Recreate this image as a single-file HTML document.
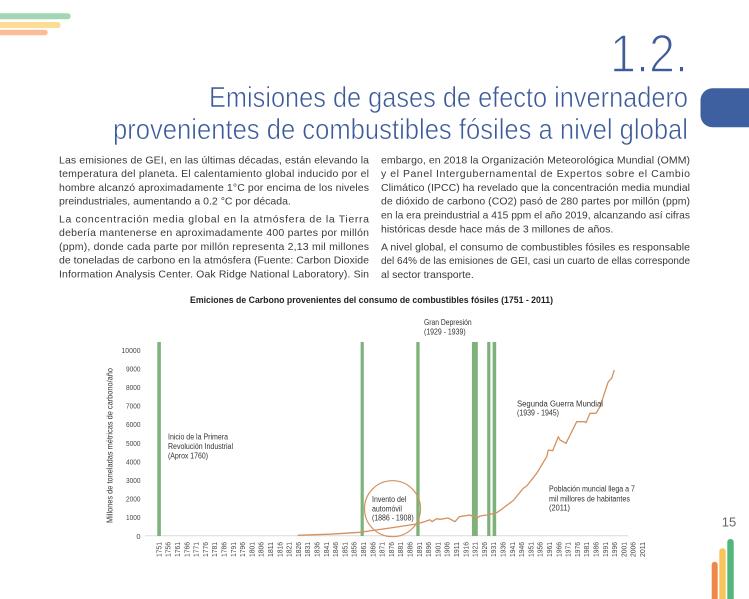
<!DOCTYPE html>
<html>
<head>
<meta charset="utf-8">
<style>
html,body{margin:0;padding:0;background:#fff;}
svg{display:block;}
.body{font-family:"Liberation Sans",sans-serif;font-size:10.5px;fill:#3a3a3a;}
.ann{font-family:"Liberation Sans",sans-serif;font-size:8px;fill:#333;}
.tick{font-family:"Liberation Sans",sans-serif;font-size:7.5px;fill:#444;}
</style>
</head>
<body>
<svg width="749" height="599" viewBox="0 0 749 599" xmlns="http://www.w3.org/2000/svg">
<rect x="0" y="0" width="749" height="599" fill="#fff"/>

<!-- top-left decorative bars -->
<rect x="-6" y="13.3" width="76.7" height="6" rx="3" fill="#a3d6b3"/>
<rect x="-6" y="22" width="66.7" height="6" rx="3" fill="#fddc94"/>
<rect x="-6" y="29.7" width="53.7" height="5.6" rx="2.8" fill="#fbbb95"/>

<!-- right tab -->
<rect x="700.5" y="88.3" width="70" height="39" rx="12" fill="#3e5fa0"/>

<!-- titles -->
<text x="688" y="72" text-anchor="end" font-family="Liberation Sans, sans-serif" font-size="54" fill="#3d5b9b" stroke="#fff" stroke-width="1.6" textLength="78" lengthAdjust="spacingAndGlyphs">1.2.</text>
<text x="688" y="107" text-anchor="end" font-family="Liberation Sans, sans-serif" font-size="29" fill="#3d5b9b" stroke="#fff" stroke-width="0.6" textLength="479" lengthAdjust="spacingAndGlyphs">Emisiones de gases de efecto invernadero</text>
<text x="688" y="139" text-anchor="end" font-family="Liberation Sans, sans-serif" font-size="29" fill="#3d5b9b" stroke="#fff" stroke-width="0.6" textLength="575" lengthAdjust="spacingAndGlyphs">provenientes de combustibles fósiles a nivel global</text>

<!-- left column -->
<g class="body">
<text x="59" y="163.3" textLength="310" lengthAdjust="spacing">Las emisiones de GEI, en las últimas décadas, están elevando la</text>
<text x="59" y="177.1" textLength="310" lengthAdjust="spacing">temperatura del planeta. El calentamiento global inducido por el</text>
<text x="59" y="190.9" textLength="310" lengthAdjust="spacing">hombre alcanzó aproximadamente 1°C por encima de los niveles</text>
<text x="59" y="204.7">preindustriales, aumentando a 0.2 °C por década.</text>
<text x="59" y="222.3" textLength="310" lengthAdjust="spacing">La concentración media global en la atmósfera de la Tierra</text>
<text x="59" y="236.1" textLength="310" lengthAdjust="spacing">debería mantenerse en aproximadamente 400 partes por millón</text>
<text x="59" y="249.9" textLength="310" lengthAdjust="spacing">(ppm), donde cada parte por millón representa 2,13 mil millones</text>
<text x="59" y="263.7" textLength="310" lengthAdjust="spacing">de toneladas de carbono en la atmósfera (Fuente: Carbon Dioxide</text>
<text x="59" y="277.5" textLength="310" lengthAdjust="spacing">Information Analysis Center. Oak Ridge National Laboratory). Sin</text>
</g>

<!-- right column -->
<g class="body">
<text x="381" y="163.3" textLength="309" lengthAdjust="spacing">embargo, en 2018 la Organización Meteorológica Mundial (OMM)</text>
<text x="381" y="177.1" textLength="309" lengthAdjust="spacing">y el Panel Intergubernamental de Expertos sobre el Cambio</text>
<text x="381" y="190.9" textLength="309" lengthAdjust="spacing">Climático (IPCC) ha revelado que la concentración media mundial</text>
<text x="381" y="204.7" textLength="309" lengthAdjust="spacing">de dióxido de carbono (CO2) pasó de 280 partes por millón (ppm)</text>
<text x="381" y="218.5" textLength="309" lengthAdjust="spacingAndGlyphs">en la era preindustrial a 415 ppm el año 2019, alcanzando así cifras</text>
<text x="381" y="232.3">históricas desde hace más de 3 millones de años.</text>
<text x="381" y="250.3" textLength="309" lengthAdjust="spacing">A nivel global, el consumo de combustibles fósiles es responsable</text>
<text x="381" y="264.1" textLength="309" lengthAdjust="spacingAndGlyphs">del 64% de las emisiones de GEI, casi un cuarto de ellas corresponde</text>
<text x="381" y="277.9">al sector transporte.</text>
</g>

<!-- chart title -->
<text x="190" y="302.8" font-family="Liberation Sans, sans-serif" font-weight="bold" font-size="9.5" fill="#222" textLength="363" lengthAdjust="spacingAndGlyphs">Emiciones de Carbono provenientes del consumo de combustibles fósiles (1751 - 2011)</text>

<!-- y axis title -->
<text transform="translate(112.5,445.5) rotate(-90)" text-anchor="middle" class="ann" textLength="155" lengthAdjust="spacingAndGlyphs">Millones de toneladas métricas de carbono/año</text>

<!-- y tick labels -->
<g class="tick" text-anchor="end">
<text x="140.5" y="352.8" textLength="19" lengthAdjust="spacingAndGlyphs">10000</text>
<text x="140.5" y="371.4" textLength="14.5" lengthAdjust="spacingAndGlyphs">9000</text>
<text x="140.5" y="390.0" textLength="14.5" lengthAdjust="spacingAndGlyphs">8000</text>
<text x="140.5" y="408.6" textLength="14.5" lengthAdjust="spacingAndGlyphs">7000</text>
<text x="140.5" y="427.2" textLength="14.5" lengthAdjust="spacingAndGlyphs">6000</text>
<text x="140.5" y="445.8" textLength="14.5" lengthAdjust="spacingAndGlyphs">5000</text>
<text x="140.5" y="464.4" textLength="14.5" lengthAdjust="spacingAndGlyphs">4000</text>
<text x="140.5" y="483.0" textLength="14.5" lengthAdjust="spacingAndGlyphs">3000</text>
<text x="140.5" y="501.6" textLength="14.5" lengthAdjust="spacingAndGlyphs">2000</text>
<text x="140.5" y="520.2" textLength="14.5" lengthAdjust="spacingAndGlyphs">1000</text>
<text x="140.5" y="538.8">0</text>
</g>

<!-- axis line -->
<line x1="145" y1="535.8" x2="628" y2="535.8" stroke="#dcdcdc" stroke-width="1"/>

<!-- green bars -->
<g fill="#7fb27b">
<rect x="157.3" y="342" width="3.6" height="194"/>
<rect x="360.6" y="342" width="3.2" height="194"/>
<rect x="416.3" y="342" width="3.3" height="194"/>
<rect x="471.9" y="342" width="5.9" height="194"/>
<rect x="487.2" y="342" width="3.2" height="194"/>
<rect x="492.6" y="342" width="3.6" height="194"/>
</g>

<!-- emissions line -->
<polyline fill="none" stroke="#d4915f" stroke-width="1.3" stroke-linejoin="round" points="297.7,535.3 330,534.2 360,532.3 390,528 416.7,524 425,521.5 430,519.8 432,521.7 436.7,518.7 440,519.3 448,518 455,521.7 459.3,516.7 470,515 476.7,518.3 480,516 486.7,515 496.7,512.7 501.7,509.3 505,506.7 513.3,500.5 523.3,488.3 526.7,486 536.7,473.3 541.7,465 546.7,456.7 548.3,450 552.7,450.7 555,445 558.3,436.7 560,440 565,442.7 566,443.3 576.7,421.7 585,421.7 586,422.7 590,413.3 596,413.3 600,406.7 608.3,381.7 611.7,378.3 614.3,370"/>

<!-- circle -->
<circle cx="392.5" cy="508.7" r="28" fill="none" stroke="#d4915f" stroke-width="1.2"/>

<!-- annotations -->
<g class="ann">
<text x="424" y="325" textLength="47.7" lengthAdjust="spacingAndGlyphs">Gran Depresión</text>
<text x="424" y="334.7" textLength="41.7" lengthAdjust="spacingAndGlyphs">(1929 - 1939)</text>
<text x="517" y="406.3" textLength="86" lengthAdjust="spacingAndGlyphs">Segunda Guerra Mundial</text>
<text x="517" y="415.7" textLength="42" lengthAdjust="spacingAndGlyphs">(1939 - 1945)</text>
<text x="168" y="439.7" textLength="60" lengthAdjust="spacingAndGlyphs">Inicio de la Primera</text>
<text x="168" y="449" textLength="65" lengthAdjust="spacingAndGlyphs">Revolución Industrial</text>
<text x="168" y="458.7" textLength="40" lengthAdjust="spacingAndGlyphs">(Aprox 1760)</text>
<text x="372" y="502" textLength="34.3" lengthAdjust="spacingAndGlyphs">Invento del</text>
<text x="372" y="511.3" textLength="30" lengthAdjust="spacingAndGlyphs">automóvil</text>
<text x="372" y="520.7" textLength="41.7" lengthAdjust="spacingAndGlyphs">(1886 - 1908)</text>
<text x="549" y="491.3" textLength="86" lengthAdjust="spacingAndGlyphs">Población muncial llega a 7</text>
<text x="549" y="501.3" textLength="81" lengthAdjust="spacingAndGlyphs">mil millores de habitantes</text>
<text x="549" y="510.7" textLength="21" lengthAdjust="spacingAndGlyphs">(2011)</text>
</g>

<!-- x tick labels -->
<g class="tick" text-anchor="end">
<text transform="translate(161.4,542) rotate(-90)" textLength="15" lengthAdjust="spacingAndGlyphs">1751</text>
<text transform="translate(170.7,542) rotate(-90)" textLength="15" lengthAdjust="spacingAndGlyphs">1756</text>
<text transform="translate(180.0,542) rotate(-90)" textLength="15" lengthAdjust="spacingAndGlyphs">1761</text>
<text transform="translate(189.3,542) rotate(-90)" textLength="15" lengthAdjust="spacingAndGlyphs">1766</text>
<text transform="translate(198.6,542) rotate(-90)" textLength="15" lengthAdjust="spacingAndGlyphs">1771</text>
<text transform="translate(207.9,542) rotate(-90)" textLength="15" lengthAdjust="spacingAndGlyphs">1776</text>
<text transform="translate(217.2,542) rotate(-90)" textLength="15" lengthAdjust="spacingAndGlyphs">1781</text>
<text transform="translate(226.5,542) rotate(-90)" textLength="15" lengthAdjust="spacingAndGlyphs">1786</text>
<text transform="translate(235.8,542) rotate(-90)" textLength="15" lengthAdjust="spacingAndGlyphs">1791</text>
<text transform="translate(245.1,542) rotate(-90)" textLength="15" lengthAdjust="spacingAndGlyphs">1796</text>
<text transform="translate(254.4,542) rotate(-90)" textLength="15" lengthAdjust="spacingAndGlyphs">1801</text>
<text transform="translate(263.7,542) rotate(-90)" textLength="15" lengthAdjust="spacingAndGlyphs">1806</text>
<text transform="translate(273.0,542) rotate(-90)" textLength="15" lengthAdjust="spacingAndGlyphs">1811</text>
<text transform="translate(282.3,542) rotate(-90)" textLength="15" lengthAdjust="spacingAndGlyphs">1816</text>
<text transform="translate(291.6,542) rotate(-90)" textLength="15" lengthAdjust="spacingAndGlyphs">1821</text>
<text transform="translate(300.9,542) rotate(-90)" textLength="15" lengthAdjust="spacingAndGlyphs">1826</text>
<text transform="translate(310.2,542) rotate(-90)" textLength="15" lengthAdjust="spacingAndGlyphs">1831</text>
<text transform="translate(319.5,542) rotate(-90)" textLength="15" lengthAdjust="spacingAndGlyphs">1836</text>
<text transform="translate(328.8,542) rotate(-90)" textLength="15" lengthAdjust="spacingAndGlyphs">1841</text>
<text transform="translate(338.1,542) rotate(-90)" textLength="15" lengthAdjust="spacingAndGlyphs">1846</text>
<text transform="translate(347.4,542) rotate(-90)" textLength="15" lengthAdjust="spacingAndGlyphs">1851</text>
<text transform="translate(356.7,542) rotate(-90)" textLength="15" lengthAdjust="spacingAndGlyphs">1856</text>
<text transform="translate(366.0,542) rotate(-90)" textLength="15" lengthAdjust="spacingAndGlyphs">1861</text>
<text transform="translate(375.3,542) rotate(-90)" textLength="15" lengthAdjust="spacingAndGlyphs">1866</text>
<text transform="translate(384.6,542) rotate(-90)" textLength="15" lengthAdjust="spacingAndGlyphs">1871</text>
<text transform="translate(393.9,542) rotate(-90)" textLength="15" lengthAdjust="spacingAndGlyphs">1876</text>
<text transform="translate(403.2,542) rotate(-90)" textLength="15" lengthAdjust="spacingAndGlyphs">1881</text>
<text transform="translate(412.5,542) rotate(-90)" textLength="15" lengthAdjust="spacingAndGlyphs">1886</text>
<text transform="translate(421.8,542) rotate(-90)" textLength="15" lengthAdjust="spacingAndGlyphs">1891</text>
<text transform="translate(431.1,542) rotate(-90)" textLength="15" lengthAdjust="spacingAndGlyphs">1896</text>
<text transform="translate(440.4,542) rotate(-90)" textLength="15" lengthAdjust="spacingAndGlyphs">1901</text>
<text transform="translate(449.7,542) rotate(-90)" textLength="15" lengthAdjust="spacingAndGlyphs">1906</text>
<text transform="translate(459.0,542) rotate(-90)" textLength="15" lengthAdjust="spacingAndGlyphs">1911</text>
<text transform="translate(468.3,542) rotate(-90)" textLength="15" lengthAdjust="spacingAndGlyphs">1916</text>
<text transform="translate(477.6,542) rotate(-90)" textLength="15" lengthAdjust="spacingAndGlyphs">1921</text>
<text transform="translate(486.9,542) rotate(-90)" textLength="15" lengthAdjust="spacingAndGlyphs">1926</text>
<text transform="translate(496.2,542) rotate(-90)" textLength="15" lengthAdjust="spacingAndGlyphs">1931</text>
<text transform="translate(505.5,542) rotate(-90)" textLength="15" lengthAdjust="spacingAndGlyphs">1936</text>
<text transform="translate(514.8,542) rotate(-90)" textLength="15" lengthAdjust="spacingAndGlyphs">1941</text>
<text transform="translate(524.1,542) rotate(-90)" textLength="15" lengthAdjust="spacingAndGlyphs">1946</text>
<text transform="translate(533.4,542) rotate(-90)" textLength="15" lengthAdjust="spacingAndGlyphs">1951</text>
<text transform="translate(542.7,542) rotate(-90)" textLength="15" lengthAdjust="spacingAndGlyphs">1956</text>
<text transform="translate(552.0,542) rotate(-90)" textLength="15" lengthAdjust="spacingAndGlyphs">1961</text>
<text transform="translate(561.3,542) rotate(-90)" textLength="15" lengthAdjust="spacingAndGlyphs">1966</text>
<text transform="translate(570.6,542) rotate(-90)" textLength="15" lengthAdjust="spacingAndGlyphs">1971</text>
<text transform="translate(579.9,542) rotate(-90)" textLength="15" lengthAdjust="spacingAndGlyphs">1976</text>
<text transform="translate(589.2,542) rotate(-90)" textLength="15" lengthAdjust="spacingAndGlyphs">1981</text>
<text transform="translate(598.5,542) rotate(-90)" textLength="15" lengthAdjust="spacingAndGlyphs">1986</text>
<text transform="translate(607.8,542) rotate(-90)" textLength="15" lengthAdjust="spacingAndGlyphs">1991</text>
<text transform="translate(617.1,542) rotate(-90)" textLength="15" lengthAdjust="spacingAndGlyphs">1996</text>
<text transform="translate(626.4,542) rotate(-90)" textLength="15" lengthAdjust="spacingAndGlyphs">2001</text>
<text transform="translate(635.7,542) rotate(-90)" textLength="15" lengthAdjust="spacingAndGlyphs">2006</text>
<text transform="translate(645.0,542) rotate(-90)" textLength="15" lengthAdjust="spacingAndGlyphs">2011</text>
</g>

<!-- page number -->
<text x="729" y="526.5" text-anchor="middle" font-family="Liberation Sans, sans-serif" font-size="13" fill="#666">15</text>

<!-- bottom-right bars -->
<rect x="711.7" y="561.7" width="6" height="50" rx="3" fill="#f0874a"/>
<rect x="719.3" y="548.3" width="6.4" height="60" rx="3" fill="#f7c55b"/>
<rect x="727.3" y="539" width="6.4" height="70" rx="3" fill="#52b67c"/>
</svg>
</body>
</html>
